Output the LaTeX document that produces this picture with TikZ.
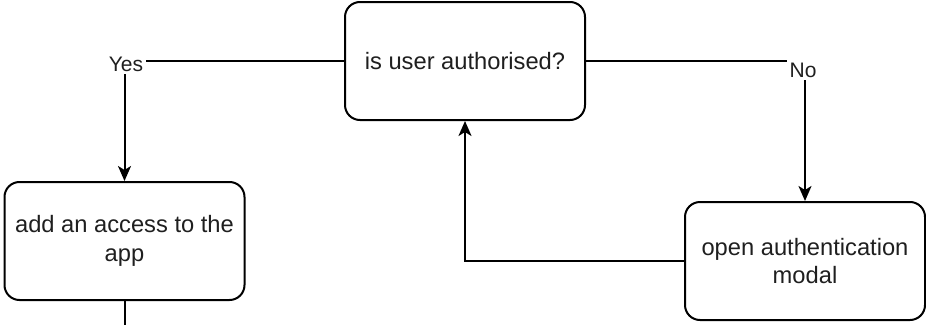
\documentclass[tikz,border=0pt]{standalone}
\usepackage{fontspec}
\setmainfont{Liberation Sans}
\usetikzlibrary{arrows.meta}
\begin{document}
\begin{tikzpicture}[x=1pt,y=-1pt,
  box/.style={draw=black, line width=2pt, rounded corners=15pt, fill=white,
    minimum width=240pt, minimum height=118pt, align=center, inner sep=0pt,
    font=\fontsize{23.7}{28.5}\selectfont, text=black!88},
  conn/.style={draw=black, line width=2pt},
  arr/.style={conn, -{Stealth[length=15pt,width=13pt,inset=4pt]}},
  lbl/.style={fill=white, inner sep=3pt, font=\fontsize{21}{24}\selectfont, text=black!88}]
\useasboundingbox (0,0) rectangle (926,324);
\node[box] (q) at (465,61) {is user authorised?};
\node[box] (add) at (124.5,241) {add an access to the\\app};
\node[box] (modal) at (805,261) {open authentication\\modal};
\coordinate (bot) at (124.5,330);
\draw[arr] (q.west) -| (add.north);
\draw[arr] (q.east) -| (modal.north);
\draw[arr] (modal.west) -| (q.south);
\draw[conn] (add.south) -- (bot);
\node[lbl] (yes) at (126,64) {Yes};
\node[lbl] (no) at (803,70) {No};
\end{tikzpicture}
\end{document}
